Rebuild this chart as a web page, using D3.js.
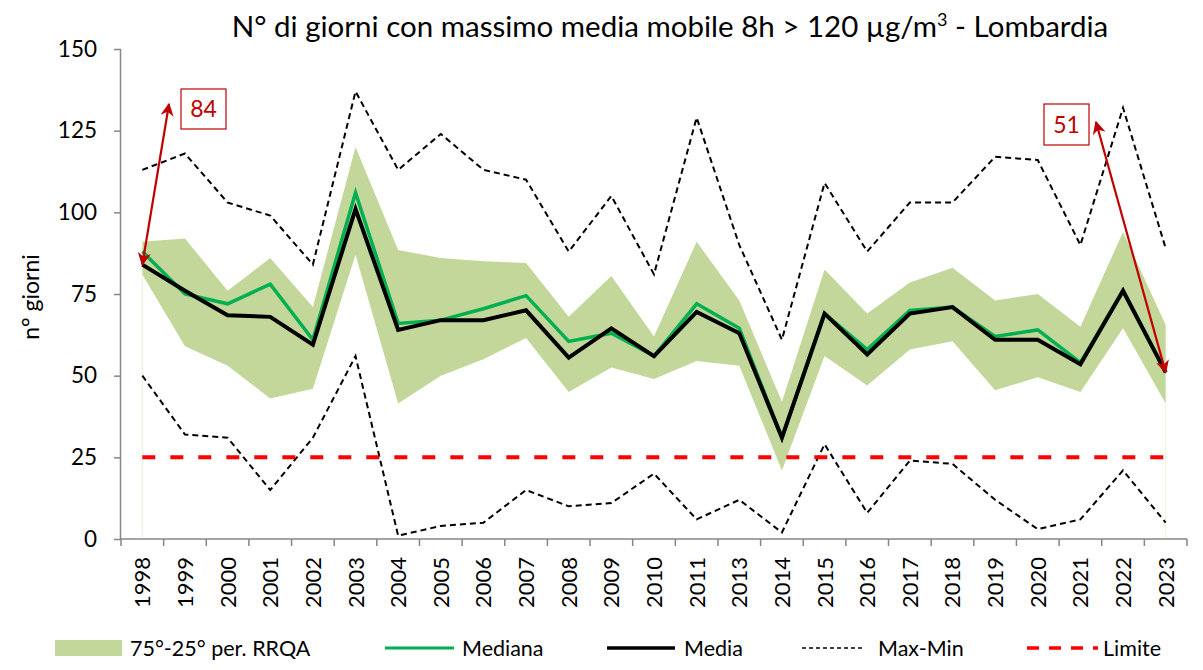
<!DOCTYPE html>
<html>
<head>
<meta charset="utf-8">
<script src="https://cdn.jsdelivr.net/npm/d3@7"></script>
<style>
  body { margin:0; background:#fff; }
  svg text { font-family: Lato, "Open Sans", sans-serif; fill:#000; }
</style>
</head>
<body>
<svg id="chart" width="1203" height="670"></svg>
<script>
// data
const years = ['1998','1999','2000','2001','2002','2003','2004','2005','2006','2007','2008','2009','2010','2011',
               '2013','2014','2015','2016','2017','2018','2019','2020','2021','2022','2023'];
const p75    = [91, 92, 76, 86, 71, 120, 88.5, 86, 85, 84.5, 68, 80.5, 62, 91, 73, 42, 82.5, 69, 78.5, 83, 73, 75, 65, 94, 65.5];
const p25    = [81, 59, 53, 43, 46, 87, 41.5, 50, 55, 61.5, 45, 52.5, 49, 54.5, 53, 21, 56, 47, 58, 60.5, 45.5, 49.5, 45, 64.5, 41.5];
const mediana= [88, 75, 72, 78, 61, 106, 66, 67, 70.5, 74.5, 60.5, 63, 56, 72, 64.5, 31, 69, 58, 70, 71, 62, 64, 54, 76, 51];
const media  = [84, 76, 68.5, 68, 59.5, 101, 64, 67, 67, 70, 55.5, 64.5, 56, 69.5, 63, 31, 69, 56.5, 69, 71, 61, 61, 53.5, 76, 51];
const maxVals= [113, 118, 103, 99, 84, 137, 113, 124, 113, 110, 88, 105, 81, 129, 90, 61, 109, 88, 103, 103, 117, 116, 90, 132, 89];
const minVals= [50, 32, 31, 15, 31, 56, 1, 4, 5, 15, 10, 11, 20, 6, 12, 2, 29, 8, 24, 23, 12, 3, 6, 21, 5];
const limite = 25;
const yTicks = [0, 25, 50, 75, 100, 125, 150];
const title = 'N° di giorni con massimo media mobile 8h > 120 µg/m';

const svg = d3.select('#chart');
const L = 121, R = 1187, T = 49, B = 539;
const x = d3.scaleBand().domain(years).range([L, R]).padding(0);
const y = d3.scaleLinear().domain([0, 150]).range([B, T]);
const cx = d => x(d) + x.bandwidth()/2;
const axisCol = '#868686';

// band 75-25
const rows = years.map((yr,i)=>({yr, hi:p75[i], lo:p25[i], med:mediana[i], avg:media[i], mx:maxVals[i], mn:minVals[i]}));
svg.append('path').datum(rows)
  .attr('d', d3.area().x(d=>cx(d.yr)).y0(d=>y(d.lo)).y1(d=>y(d.hi)))
  .attr('fill', '#c4d79b');
// faint edges of the area series
[0, years.length-1].forEach(i=>{
  svg.append('line').attr('x1',cx(years[i])).attr('x2',cx(years[i])).attr('y1',y(0)).attr('y2',y(p25[i]))
    .attr('stroke','#eef1dc').attr('stroke-width',1);
});

const line = acc => d3.line().x(d=>cx(d.yr)).y(d=>y(acc(d)));
svg.append('path').datum(rows).attr('d', line(d=>d.mx)).attr('fill','none')
  .attr('stroke','#000').attr('stroke-width',2).attr('stroke-dasharray','6,4');
svg.append('path').datum(rows).attr('d', line(d=>d.mn)).attr('fill','none')
  .attr('stroke','#000').attr('stroke-width',2).attr('stroke-dasharray','6,4');
svg.append('line').attr('x1',cx(years[0])).attr('x2',cx(years[years.length-1]))
  .attr('y1',y(limite)).attr('y2',y(limite))
  .attr('stroke','#ff0000').attr('stroke-width',4).attr('stroke-dasharray','13,15');
svg.append('path').datum(rows).attr('d', line(d=>d.med)).attr('fill','none')
  .attr('stroke','#00b050').attr('stroke-width',3.5);
svg.append('path').datum(rows).attr('d', line(d=>d.avg)).attr('fill','none')
  .attr('stroke','#000').attr('stroke-width',4);

// y axis
const gy = svg.append('g').attr('transform',`translate(${L},0)`)
  .call(d3.axisLeft(y).tickValues(yTicks).tickSize(7).tickPadding(17));
gy.select('.domain').attr('stroke',axisCol).attr('stroke-width',1.5).attr('d',`M-0.5,${B}V${T}`);
gy.selectAll('.tick line').attr('stroke',axisCol).attr('stroke-width',1.5);
gy.selectAll('.tick text').attr('font-size',22.5).attr('fill','#000').attr('font-family','Lato, sans-serif');

// x axis
const gx = svg.append('g').attr('transform',`translate(0,${B})`);
gx.append('line').attr('x1',L-1).attr('x2',R).attr('y1',0).attr('y2',0).attr('stroke',axisCol).attr('stroke-width',1.5);
years.concat(['end']).forEach((yr,i)=>{
  const xx = i < years.length ? x(yr) : R;
  gx.append('line').attr('x1',xx).attr('x2',xx).attr('y1',0).attr('y2',7).attr('stroke',axisCol).attr('stroke-width',1.5);
});
gx.selectAll('text.yr').data(years).join('text').attr('class','yr')
  .attr('transform', d=>`translate(${cx(d)+8},18) rotate(-90)`)
  .attr('text-anchor','end').attr('font-size',22).text(d=>d);

// title
const t = svg.append('text').attr('x',670).attr('y',37).attr('text-anchor','middle').attr('font-size',29.5);
t.append('tspan').text(title);
t.append('tspan').attr('font-size',18).attr('dy',-11).text('3');
t.append('tspan').attr('dy',11).text(' - Lombardia');

// y label
svg.append('text').attr('transform','translate(39,297) rotate(-90)').attr('text-anchor','middle')
  .attr('font-size',23).text('n° giorni');

// annotations
const red = '#c00000';
const defs = svg.append('defs');
defs.append('marker').attr('id','ah').attr('viewBox','0 0 10 10').attr('refX',9).attr('refY',5)
  .attr('markerWidth',6).attr('markerHeight',6).attr('orient','auto-start-reverse').attr('markerUnits','strokeWidth')
  .append('path').attr('d','M0,0L10,5L0,10L3,5Z').attr('fill',red);
function annot(i, bx, by, bw, bh, tx, ty){
  svg.append('line').attr('x1',tx).attr('y1',ty).attr('x2',cx(years[i])).attr('y2',y(media[i]))
    .attr('stroke',red).attr('stroke-width',2.2).attr('marker-start','url(#ah)').attr('marker-end','url(#ah)');
  svg.append('rect').attr('x',bx).attr('y',by).attr('width',bw).attr('height',bh)
    .attr('fill','#fff').attr('stroke',red).attr('stroke-width',1.2);
  svg.append('text').attr('x',bx+bw/2).attr('y',by+bh/2+8).attr('text-anchor','middle')
    .attr('font-size',23).style('fill',red).text(media[i]);
}
annot(0, 181, 89, 45, 40, 169, 104);
annot(years.length-1, 1044, 104, 45, 41, 1096, 122);

// legend
const lg = svg.append('g').attr('transform','translate(0,648)');
lg.append('rect').attr('x',55).attr('y',-8).attr('width',67).attr('height',16).attr('fill','#c4d79b');
lg.append('text').attr('x',130).attr('y',8).attr('font-size',21.5).text('75°-25° per. RRQA');
lg.append('line').attr('x1',385).attr('x2',454).attr('stroke','#00b050').attr('stroke-width',3);
lg.append('text').attr('x',462).attr('y',8).attr('font-size',21.5).text('Mediana');
lg.append('line').attr('x1',607).attr('x2',675).attr('stroke','#000').attr('stroke-width',3.5);
lg.append('text').attr('x',684).attr('y',8).attr('font-size',21.5).text('Media');
lg.append('line').attr('x1',802).attr('x2',864).attr('stroke','#000').attr('stroke-width',1.5).attr('stroke-dasharray','4,3');
lg.append('text').attr('x',878).attr('y',8).attr('font-size',21.5).text('Max-Min');
lg.append('line').attr('x1',1027).attr('x2',1098).attr('stroke','#ff0000').attr('stroke-width',3.5).attr('stroke-dasharray','12,10');
lg.append('text').attr('x',1103).attr('y',8).attr('font-size',21.5).text('Limite');
</script>
</body>
</html>
